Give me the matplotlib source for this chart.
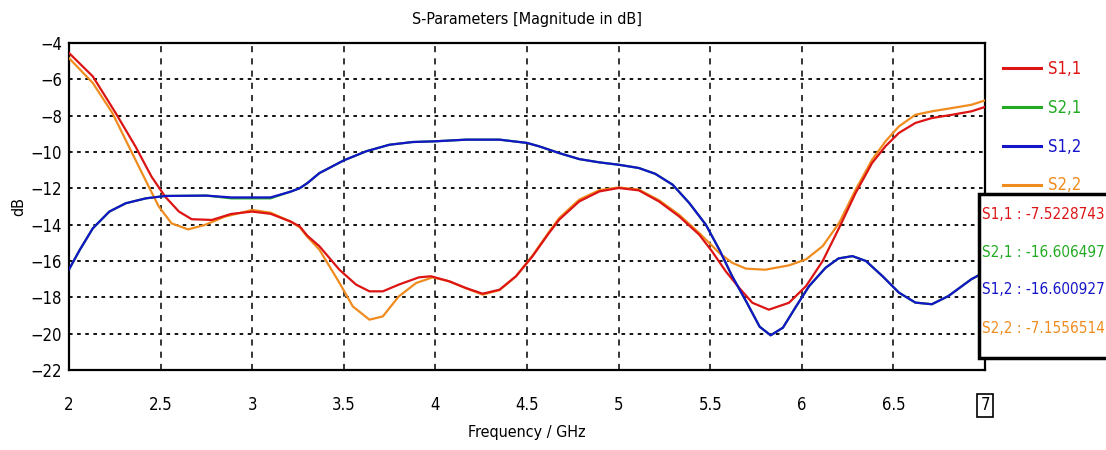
import matplotlib
matplotlib.use("Agg")
import matplotlib.pyplot as plt
from matplotlib.patches import Rectangle
from matplotlib.lines import Line2D

plt.rcParams['font.family'] = ['DejaVu Sans']
plt.rcParams['font.stretch'] = 'condensed'

# S1,1 (red)
f_s11 = [2.0, 2.13, 2.255, 2.363, 2.45, 2.525, 2.6, 2.67, 2.78, 2.885, 3.0, 3.1, 3.21, 3.26, 3.3,
         3.367, 3.476, 3.567, 3.64, 3.713, 3.8, 3.91, 3.976, 4.076, 4.167, 4.258, 4.35, 4.44, 4.53,
         4.62, 4.676, 4.785, 4.895, 5.0, 5.11, 5.22, 5.33, 5.44, 5.51, 5.585, 5.66, 5.73, 5.82,
         5.93, 6.023, 6.114, 6.204, 6.294, 6.384, 6.457, 6.53, 6.62, 6.71, 6.82, 6.926, 7.0]
s11 = [-4.55, -5.84, -7.86, -9.70, -11.35, -12.46, -13.28, -13.7, -13.74, -13.41, -13.28, -13.4,
       -13.83, -14.1, -14.6, -15.19, -16.48, -17.3, -17.67, -17.67, -17.3, -16.9, -16.84, -17.12,
       -17.49, -17.8, -17.58, -16.84, -15.74, -14.46, -13.72, -12.72, -12.17, -11.98, -12.11,
       -12.72, -13.54, -14.55, -15.47, -16.57, -17.5, -18.3, -18.68, -18.3, -17.38, -16.0, -14.17,
       -12.25, -10.6, -9.68, -8.95, -8.4, -8.13, -7.95, -7.76, -7.52]

# S2,2 (orange)
f_s22 = [2.0, 2.13, 2.237, 2.345, 2.435, 2.49, 2.56, 2.65, 2.74, 2.85, 3.0, 3.1, 3.21, 3.26, 3.3,
         3.367, 3.476, 3.549, 3.64, 3.713, 3.8, 3.895, 3.985, 4.076, 4.167, 4.258, 4.35, 4.44, 4.53,
         4.62, 4.676, 4.785, 4.895, 5.0, 5.11, 5.22, 5.33, 5.44, 5.55, 5.62, 5.695, 5.8, 5.93,
         6.023, 6.114, 6.204, 6.294, 6.384, 6.457, 6.53, 6.62, 6.71, 6.82, 6.926, 7.0]
s22 = [-4.83, -6.2, -7.86, -10.07, -11.9, -13.0, -13.93, -14.26, -14.02, -13.56, -13.19, -13.34,
       -13.83, -14.15, -14.66, -15.38, -17.2, -18.5, -19.23, -19.05, -17.95, -17.21, -16.9, -17.12,
       -17.5, -17.85, -17.6, -16.84, -15.7, -14.4, -13.63, -12.62, -12.1, -11.95, -12.07, -12.65,
       -13.45, -14.46, -15.56, -16.1, -16.42, -16.48, -16.24, -15.91, -15.18, -13.9, -12.07,
       -10.42, -9.41, -8.59, -7.95, -7.76, -7.58, -7.4, -7.16]

# S1,2 (blue) - S2,1 lies under it
f_s12 = [2.0, 2.058, 2.13, 2.22, 2.31, 2.42, 2.525, 2.75, 2.885, 3.1, 3.21, 3.258, 3.3, 3.367,
         3.5, 3.622, 3.749, 3.876, 4.0, 4.167, 4.35, 4.5, 4.567, 4.676, 4.785, 4.895, 5.0, 5.11,
         5.2, 5.295, 5.385, 5.476, 5.55, 5.62, 5.695, 5.77, 5.83, 5.897, 5.97, 6.04, 6.13, 6.2,
         6.276, 6.35, 6.44, 6.53, 6.62, 6.71, 6.8, 6.926, 7.0]
s12 = [-16.46, -15.4, -14.2, -13.28, -12.82, -12.55, -12.42, -12.4, -12.5, -12.5, -12.18, -12.0,
       -11.72, -11.16, -10.46, -9.96, -9.6, -9.45, -9.41, -9.32, -9.32, -9.5, -9.69, -10.06,
       -10.39, -10.57, -10.7, -10.88, -11.2, -11.8, -12.8, -14.0, -15.38, -16.84, -18.2, -19.62,
       -20.09, -19.67, -18.48, -17.38, -16.37, -15.86, -15.73, -16.0, -16.83, -17.74, -18.29,
       -18.38, -17.93, -17.0, -16.6]
s21 = [-16.47, -15.4, -14.2, -13.28, -12.82, -12.55, -12.42, -12.4, -12.55, -12.55, -12.18, -12.0,
       -11.72, -11.16, -10.46, -9.96, -9.6, -9.45, -9.41, -9.32, -9.32, -9.5, -9.69, -10.06,
       -10.39, -10.57, -10.7, -10.88, -11.2, -11.8, -12.8, -14.0, -15.38, -16.84, -18.2, -19.62,
       -20.09, -19.67, -18.48, -17.38, -16.37, -15.86, -15.73, -16.0, -16.83, -17.74, -18.29,
       -18.38, -17.93, -17.0, -16.61]

names = ["S1,1", "S2,1", "S1,2", "S2,2"]
end_values = ["-7.5228743", "-16.606497", "-16.600927", "-7.1556514"]
colors = ["#dc1414", "#22aa22", "#1414c8", "#f08c1e"]

fig = plt.figure(figsize=(11.06, 4.5), dpi=100)
ax = fig.add_axes([0.0624, 0.1778, 0.8282, 0.7266])

ax.plot(f_s12, s21, color=colors[1], lw=1.6, zorder=2)
ax.plot(f_s22, s22, color=colors[3], lw=1.6, zorder=3)
ax.plot(f_s11, s11, color=colors[0], lw=1.6, zorder=4)
ax.plot(f_s12, s12, color=colors[2], lw=1.6, zorder=5)

ax.set_xlim(2, 7)
ax.set_ylim(-22, -4)
ax.set_xticks([2, 2.5, 3, 3.5, 4, 4.5, 5, 5.5, 6, 6.5, 7])
ax.set_xticklabels(["2", "2.5", "3", "3.5", "4", "4.5", "5", "5.5", "6", "6.5", "7"])
ax.set_yticks(range(-22, -3, 2))
ax.tick_params(axis='x', length=0, pad=19, labelsize=12)
ax.tick_params(axis='y', length=0, pad=5, labelsize=12)
ax.xaxis.grid(True, color='black', linestyle=(0, (4, 4)), lw=1.1)
ax.yaxis.grid(True, color='black', linestyle=(0, (2, 2.5)), lw=1.3)
for s in ax.spines.values():
    s.set_linewidth(1.6)

last = ax.get_xticklabels()[-1]
last.set_bbox(dict(facecolor='white', edgecolor='black', lw=1.2, pad=2))

ax.set_title("S-Parameters [Magnitude in dB]", fontsize=11.5, pad=14)
ax.set_xlabel("Frequency / GHz", fontsize=11.5, labelpad=8)
ax.set_ylabel("dB", fontsize=11.5)
ax.yaxis.set_label_coords(-0.047, 0.5)

handles = [Line2D([], [], color=c, lw=2.2) for c in colors]
leg = fig.legend(handles, names, loc='upper left', bbox_to_anchor=(0.893, 0.9), frameon=False,
                 handlelength=2.3, handletextpad=0.4, labelspacing=1.25, fontsize=12,
                 labelcolor=colors)

fig.patches.append(Rectangle((0.885, 0.205), 0.2, 0.365, transform=fig.transFigure,
                             facecolor='white', edgecolor='black', lw=2.5, zorder=10))
ys = [0.524, 0.438, 0.356, 0.271]
for n, v, c, y in zip(names, end_values, colors, ys):
    fig.text(0.888, y, n + " : " + v, color=c, fontsize=11, va='center', ha='left', zorder=11)

fig.savefig("out.png", dpi=100)
